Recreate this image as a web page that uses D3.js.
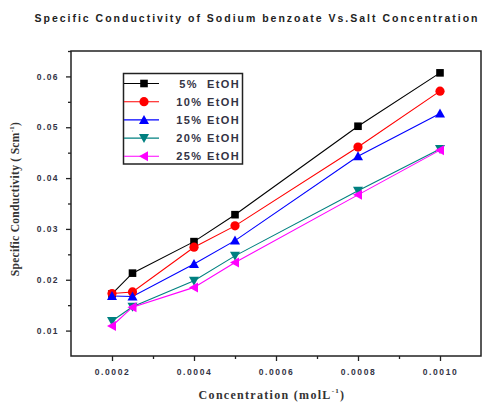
<!DOCTYPE html>
<html><head><meta charset="utf-8">
<script src="https://cdn.jsdelivr.net/npm/d3@7"></script>
<style>body{margin:0;background:#fff}svg{display:block}</style>
</head><body>
<svg id="c" width="483" height="403"></svg>
<script>
const concentration = [0.0002, 0.00025, 0.0004, 0.0005, 0.0008, 0.0010];
const etoh5  = [0.0172, 0.0213, 0.0275, 0.0328, 0.0502, 0.0607];
const etoh10 = [0.0173, 0.0176, 0.0264, 0.0306, 0.0461, 0.0571];
const etoh15 = [0.0168, 0.0167, 0.0231, 0.0277, 0.0443, 0.0527];
const etoh20 = [0.0119, 0.0147, 0.0198, 0.0247, 0.0375, 0.0457];
const etoh25 = [0.0109, 0.0146, 0.0185, 0.0234, 0.0367, 0.0455];
const seriesNames = ["5%  EtOH", "10% EtOH", "15% EtOH", "20% EtOH", "25% EtOH"];
const seriesColors = ["#000000", "#ff0000", "#0000ff", "#008080", "#ff00ff"];
const xTicks = ["0.0002", "0.0004", "0.0006", "0.0008", "0.0010"];
const yTicks = ["0.01", "0.02", "0.03", "0.04", "0.05", "0.06"];

const series = [etoh5, etoh10, etoh15, etoh20, etoh25];
const symbols = ["square", "circle", "up", "down", "left"];

const svg = d3.select("#c");
const L = 71, R = 481, T = 51, B = 356;
const x = d3.scaleLinear().domain([0.0001, 0.0011]).range([L, R]);
const y = d3.scaleLinear().domain([0.005, 0.065]).range([B, T]);
const sans = "Liberation Sans, Arial, sans-serif";
const serif = "Liberation Serif, Times New Roman, serif";

// title
svg.append("text").attr("x", 256).attr("y", 22).attr("text-anchor", "middle")
  .attr("font-family", sans).attr("font-size", 10.5)
  .attr("font-weight", "bold").attr("fill", "#222")
  .attr("textLength", 443).attr("lengthAdjust", "spacing")
  .text("Specific Conductivity of Sodium benzoate Vs.Salt Concentration");

// frame
svg.append("rect").attr("x", L).attr("y", T).attr("width", R - L).attr("height", B - T)
  .attr("fill", "none").attr("stroke", "#222").attr("stroke-width", 1.5);

// axes
const xMinor = d3.range(0.0003, 0.00101, 0.0002);
const xAx = svg.append("g").attr("transform", `translate(0,${B})`)
  .call(d3.axisBottom(x).tickValues(xTicks.map(Number)).tickFormat((d, i) => xTicks[i]).tickSize(5).tickSizeOuter(0));
svg.append("g").attr("transform", `translate(0,${B})`)
  .call(d3.axisBottom(x).tickValues(xMinor).tickFormat("").tickSize(3).tickSizeOuter(0))
  .select(".domain").remove();
const yAx = svg.append("g").attr("transform", `translate(${L},0)`)
  .call(d3.axisLeft(y).tickValues(yTicks.map(Number)).tickFormat((d, i) => yTicks[i]).tickSize(5).tickSizeOuter(0));
const yMinor = d3.range(0.015, 0.0651, 0.01);
svg.append("g").attr("transform", `translate(${L},0)`)
  .call(d3.axisLeft(y).tickValues(yMinor).tickFormat("").tickSize(3).tickSizeOuter(0))
  .select(".domain").remove();
svg.selectAll(".domain").remove();
svg.selectAll(".tick line").attr("stroke", "#222").attr("stroke-width", 1.3);
xAx.selectAll("text").attr("font-family", sans).attr("font-size", 8.5)
  .attr("font-weight", "bold").attr("fill", "#334").attr("dy", "1.3em")
  .attr("letter-spacing", 1.6);
yAx.selectAll("text").attr("font-family", sans).attr("font-size", 8.5)
  .attr("font-weight", "bold").attr("fill", "#334").attr("x", -12)
  .attr("letter-spacing", 1.4);

// axis labels
const xl = svg.append("text").attr("x", 272).attr("y", 399).attr("text-anchor", "middle")
  .attr("font-family", serif).attr("font-size", 12)
  .attr("font-weight", "bold").attr("fill", "#333").attr("letter-spacing", 1.3);
xl.append("tspan").text("Concentration (molL");
xl.append("tspan").attr("font-size", 7).attr("dy", -6).text("-1");
xl.append("tspan").attr("dy", 6).text(")");

const yl = svg.append("text").attr("transform", "translate(19,199) rotate(-90)").attr("text-anchor", "middle")
  .attr("font-family", serif).attr("font-size", 11.5)
  .attr("font-weight", "bold").attr("fill", "#333").attr("letter-spacing", 0.3);
yl.append("tspan").text("Specific Conductivity ( Scm");
yl.append("tspan").attr("font-size", 7).attr("dy", -5).text("-1");
yl.append("tspan").attr("dy", 5).text(")");

function marker(g, kind, color) {
  if (kind === "square") g.append("rect").attr("x", -3.8).attr("y", -3.8).attr("width", 7.6).attr("height", 7.6).attr("fill", color);
  else if (kind === "circle") g.append("circle").attr("r", 4.6).attr("fill", color);
  else {
    const s = 5;
    const pts = {up: [[0,-s],[s,s*0.8],[-s,s*0.8]], down: [[0,s],[s,-s*0.8],[-s,-s*0.8]], left: [[-s,0],[s*0.8,-s],[s*0.8,s]]}[kind];
    g.append("path").attr("d", "M" + pts.map(p => p.join(",")).join("L") + "Z").attr("fill", color);
  }
}

const line = d3.line().x((d, i) => x(concentration[i])).y(d => y(d));
series.forEach((s, k) => {
  svg.append("path").datum(s).attr("d", line).attr("fill", "none")
    .attr("stroke", seriesColors[k]).attr("stroke-width", 1.1);
});
series.forEach((s, k) => {
  s.forEach((v, i) => {
    const g = svg.append("g").attr("transform", `translate(${x(concentration[i])},${y(v)})`);
    marker(g, symbols[k], seriesColors[k]);
  });
});

// legend
const lg = svg.append("g");
lg.append("rect").attr("x", 123.5).attr("y", 73.5).attr("width", 119).attr("height", 90.5)
  .attr("fill", "#fff").attr("stroke", "#222").attr("stroke-width", 1.5);
seriesNames.forEach((n, k) => {
  const yy = 83.5 + k * 18.2;
  lg.append("line").attr("x1", 124).attr("x2", 159).attr("y1", yy).attr("y2", yy)
    .attr("stroke", seriesColors[k]).attr("stroke-width", 1.1);
  marker(lg.append("g").attr("transform", `translate(144,${yy})`), symbols[k], seriesColors[k]);
  lg.append("text").attr("x", 240).attr("y", yy + 4).attr("text-anchor", "end")
    .attr("font-family", sans).attr("font-size", 11)
    .attr("font-weight", "bold").attr("fill", "#334").attr("letter-spacing", 1.4)
    .style("white-space", "pre").text(n);
});
</script>
</body></html>
